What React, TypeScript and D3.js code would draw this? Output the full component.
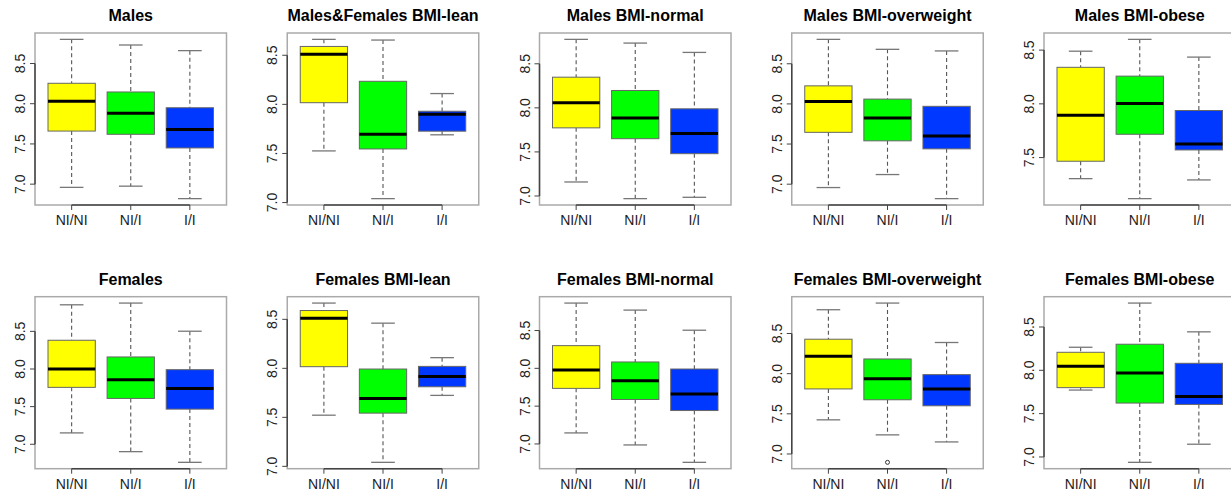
import React, { useEffect, useRef } from "react";
import * as d3 from "d3";

// genotype groups and their fills
const groups = ["NI/NI", "NI/I", "I/I"];
const fills = ["#ffff00", "#00ff00", "#0038ff"];

const titles = [
  "Males",
  "Males&Females BMI-lean",
  "Males BMI-normal",
  "Males BMI-overweight",
  "Males BMI-obese",
  "Females",
  "Females BMI-lean",
  "Females BMI-normal",
  "Females BMI-overweight",
  "Females BMI-obese",
];

// [lower whisker, Q1, median, Q3, upper whisker] per group
const males = [[6.96, 7.66, 8.03, 8.254, 8.8], [6.975, 7.62, 7.88, 8.146, 8.73], [6.82, 7.45, 7.68, 7.95, 8.66]];
const bothLean = [[7.526, 8.017, 8.51, 8.59, 8.662], [7.04, 7.546, 7.696, 8.235, 8.655], [7.69, 7.727, 7.9, 7.93, 8.11]];
const malesNormal = [[7.159, 7.773, 8.057, 8.348, 8.777], [6.97, 7.65, 7.886, 8.197, 8.735], [6.985, 7.48, 7.708, 7.989, 8.629]];
const malesOver = [[6.958, 7.646, 8.03, 8.225, 8.804], [7.12, 7.54, 7.825, 8.06, 8.68], [6.82, 7.44, 7.6, 7.97, 8.66]];
const malesObese = [[7.304, 7.466, 7.894, 8.34, 8.49], [7.118, 7.717, 8.003, 8.258, 8.6], [7.292, 7.571, 7.627, 7.938, 8.435]];
const females = [[7.151, 7.756, 8.0, 8.382, 8.853], [6.902, 7.609, 7.858, 8.16, 8.876], [6.76, 7.467, 7.742, 7.991, 8.502]];
const femalesLean = [[7.522, 8.017, 8.512, 8.59, 8.666], [7.041, 7.543, 7.693, 7.993, 8.461], [7.724, 7.812, 7.918, 8.02, 8.109]];
const femalesNormal = [[7.146, 7.735, 7.978, 8.3, 8.863], [6.987, 7.588, 7.836, 8.084, 8.77], [6.757, 7.442, 7.659, 7.991, 8.504]];
const femalesOver = [[7.425, 7.81, 8.217, 8.429, 8.796], [7.238, 7.675, 7.938, 8.183, 8.879], [7.15, 7.6, 7.808, 7.988, 8.388]];
const femalesObese = [[7.772, 7.8, 8.046, 8.208, 8.266], [6.938, 7.622, 7.969, 8.301, 8.776], [7.147, 7.606, 7.699, 8.081, 8.444]];

// outliers: [panel index, group index, value]
const outliers = [[8, 1, 6.896]];

const yTicks = [7.0, 7.5, 8.0, 8.5];

const panels = [males, bothLean, malesNormal, malesOver, malesObese, females, femalesLean, femalesNormal, femalesOver, femalesObese];

const App = () => {
  const svgRef = useRef(null);

  useEffect(() => {
    const svg = d3.select(svgRef.current);
    svg.selectAll("*").remove();

    const colStep = 252.25;
    const rowStep = 263.7;
    const boxW = 191.5;
    const boxH = 172;
    const font = "'Liberation Sans', Arial, Helvetica, sans-serif";

    panels.forEach((stats, p) => {
      const col = p % 5;
      const row = Math.floor(p / 5);
      const left = 35 + col * colStep;
      const top = 33 + row * rowStep;

      const pts = outliers.filter(o => o[0] === p).map(o => o[2]);
      const lo = d3.min([...stats.map(s => s[0]), ...pts]);
      const hi = d3.max([...stats.map(s => s[4]), ...pts]);
      const pad = (hi - lo) * 0.04;

      const x = d3.scaleLinear().domain([0.38, 3.62]).range([left, left + boxW]);
      const y = d3.scaleLinear().domain([lo - pad, hi + pad]).range([top + boxH, top]);
      const g = svg.append("g");

      // plot frame
      g.append("rect")
        .attr("x", left).attr("y", top)
        .attr("width", boxW).attr("height", boxH)
        .attr("fill", "none").attr("stroke", "#aaa").attr("stroke-width", 1.5);

      // title
      g.append("text")
        .attr("x", left + boxW / 2).attr("y", top - 12)
        .attr("text-anchor", "middle")
        .style("font-family", font).style("font-size", "16px").style("font-weight", "bold")
        .text(titles[p]);

      // y axis
      const ticks = yTicks.filter(t => t >= y.domain()[0] && t <= y.domain()[1]);
      g.append("line")
        .attr("x1", left).attr("x2", left)
        .attr("y1", y(ticks[0])).attr("y2", y(ticks[ticks.length - 1]))
        .attr("stroke", "#444").attr("stroke-width", 1.5);
      ticks.forEach(t => {
        g.append("line")
          .attr("x1", left - 5).attr("x2", left)
          .attr("y1", y(t)).attr("y2", y(t))
          .attr("stroke", "#444");
        g.append("text")
          .attr("transform", `translate(${left - 10},${y(t)}) rotate(-90)`)
          .attr("text-anchor", "middle")
          .style("font-family", font).style("font-size", "14px").attr("fill", "#222")
          .text(t.toFixed(1));
      });

      // x axis
      g.append("line")
        .attr("x1", x(1)).attr("x2", x(3))
        .attr("y1", top + boxH).attr("y2", top + boxH)
        .attr("stroke", "#444").attr("stroke-width", 1.5);
      groups.forEach((name, i) => {
        g.append("line")
          .attr("x1", x(i + 1)).attr("x2", x(i + 1))
          .attr("y1", top + boxH).attr("y2", top + boxH + 5)
          .attr("stroke", "#444");
        g.append("text")
          .attr("x", x(i + 1)).attr("y", top + boxH + 20)
          .attr("text-anchor", "middle")
          .style("font-family", font).style("font-size", "14px").attr("fill", "#222")
          .text(name);
      });

      // boxes
      stats.forEach((s, i) => {
        const cx = x(i + 1);
        const half = (x(1.4) - x(1)); // boxwex 0.8
        const cap = half / 2;

        g.append("line")
          .attr("x1", cx).attr("x2", cx).attr("y1", y(s[4])).attr("y2", y(s[3]))
          .attr("stroke", "#555").attr("stroke-width", 1.1).attr("stroke-dasharray", "4,3");
        g.append("line")
          .attr("x1", cx).attr("x2", cx).attr("y1", y(s[1])).attr("y2", y(s[0]))
          .attr("stroke", "#555").attr("stroke-width", 1.1).attr("stroke-dasharray", "4,3");
        [s[0], s[4]].forEach(v => {
          g.append("line")
            .attr("x1", cx - cap).attr("x2", cx + cap)
            .attr("y1", y(v)).attr("y2", y(v))
            .attr("stroke", "#777").attr("stroke-width", 1.3);
        });
        g.append("rect")
          .attr("x", cx - half).attr("y", y(s[3]))
          .attr("width", half * 2).attr("height", y(s[1]) - y(s[3]))
          .attr("fill", fills[i]).attr("stroke", "#666").attr("stroke-width", 1);
        g.append("line")
          .attr("x1", cx - half).attr("x2", cx + half)
          .attr("y1", y(s[2])).attr("y2", y(s[2]))
          .attr("stroke", "#000").attr("stroke-width", 3);
      });

      outliers.filter(o => o[0] === p).forEach(o => {
        g.append("circle")
          .attr("cx", x(o[1] + 1)).attr("cy", y(o[2]))
          .attr("r", 2).attr("fill", "none").attr("stroke", "#333");
      });
    });
  }, []);

  return (
    <svg
      ref={svgRef}
      width={1231}
      height={492}
      style={{ position: "absolute", left: 0, top: 0, background: "#fff" }}
    />
  );
};

export default App;
